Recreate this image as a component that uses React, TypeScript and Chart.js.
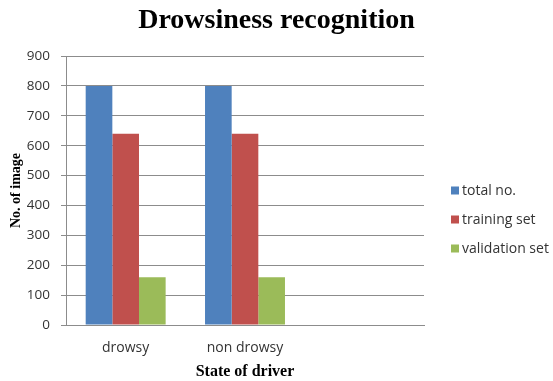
import React, { useEffect, useRef } from "react";
import { Chart, registerables } from "chart.js";

Chart.register(...registerables);

// Categories along the x axis (the third slot is left empty)
const categories: string[] = ["drowsy", "non drowsy", ""];

// Image counts per state of driver
const totalNo: (number | null)[] = [800, 800, null];
const trainingSet: (number | null)[] = [640, 640, null];
const validationSet: (number | null)[] = [160, 160, null];

const seriesNames: string[] = ["total no.", "training set", "validation set"];
const seriesColors: string[] = ["#4F81BD", "#C0504D", "#9BBB59"];

const chartTitle = "Drowsiness recognition";

const yMin = 0;
const yMax = 900;
const yStep = 100;

const tickFont = "'Open Sans', 'Noto Sans', sans-serif";
const serifFont = "'Liberation Serif', 'DejaVu Serif', serif";

// Title centred over the whole canvas, legend at the right of the plot
const decorations = {
  id: "decorations",
  afterDraw(chart: Chart) {
    const ctx = chart.ctx;
    ctx.save();
    ctx.font = `bold 28px ${serifFont}`;
    ctx.fillStyle = "#000000";
    ctx.textAlign = "center";
    ctx.textBaseline = "alphabetic";
    ctx.fillText(chartTitle, chart.width / 2, 28);

    const x = 451;
    const y0 = 190.5;
    const rowGap = 29;
    ctx.font = `14px ${tickFont}`;
    ctx.textBaseline = "middle";
    ctx.textAlign = "left";
    chart.data.datasets.forEach((ds, i) => {
      const y = y0 + i * rowGap;
      ctx.fillStyle = ds.backgroundColor as string;
      ctx.fillRect(x, y - 4, 8, 8);
      ctx.fillStyle = "#333333";
      ctx.fillText(ds.label as string, x + 11, y + 1);
    });
    ctx.restore();
  },
};

export default function App() {
  const canvasRef = useRef<HTMLCanvasElement | null>(null);

  useEffect(() => {
    if (!canvasRef.current) return;
    const series = [totalNo, trainingSet, validationSet];
    const chart = new Chart(canvasRef.current, {
      type: "bar",
      data: {
        labels: categories,
        datasets: series.map((values, i) => ({
          label: seriesNames[i],
          data: values,
          backgroundColor: seriesColors[i],
          borderWidth: 0,
          barPercentage: 1,
          categoryPercentage: 0.67,
        })),
      },
      options: {
        responsive: false,
        animation: false,
        devicePixelRatio: 1,
        layout: { padding: { left: 8, right: 129, top: 56, bottom: 0 } },
        plugins: {
          legend: { display: false },
          tooltip: { enabled: false },
          title: { display: false },
        },
        scales: {
          x: {
            grid: { display: false },
            border: { display: true, color: "#8c8c8c", width: 1 },
            ticks: {
              color: "#333333",
              font: { family: tickFont, size: 14 },
              padding: 7,
            },
            title: {
              display: true,
              text: "State of driver",
              color: "#000000",
              font: { family: serifFont, size: 16, weight: "bold" },
              padding: { top: 0, bottom: 0 },
            },
            afterFit: (scale: any) => {
              scale.height = 56;
            },
          },
          y: {
            min: yMin,
            max: yMax,
            ticks: {
              stepSize: yStep,
              color: "#333333",
              font: { family: tickFont, size: 13.5 },
              padding: 11,
            },
            grid: {
              color: "#8c8c8c",
              lineWidth: 1,
              drawTicks: true,
              tickLength: 5,
            },
            border: { display: true, color: "#8c8c8c", width: 1 },
            title: {
              display: true,
              text: "No. of image",
              color: "#000000",
              font: { family: serifFont, size: 14, weight: "bold" },
              padding: { top: 0, bottom: 3 },
            },
            afterFit: (scale: any) => {
              scale.width = 58;
            },
          },
        },
      },
      plugins: [decorations],
    });
    return () => chart.destroy();
  }, []);

  return (
    <div style={{ position: "fixed", left: 0, top: 0, width: 553, height: 381, background: "#ffffff" }}>
      <canvas ref={canvasRef} width={553} height={381} />
    </div>
  );
}
